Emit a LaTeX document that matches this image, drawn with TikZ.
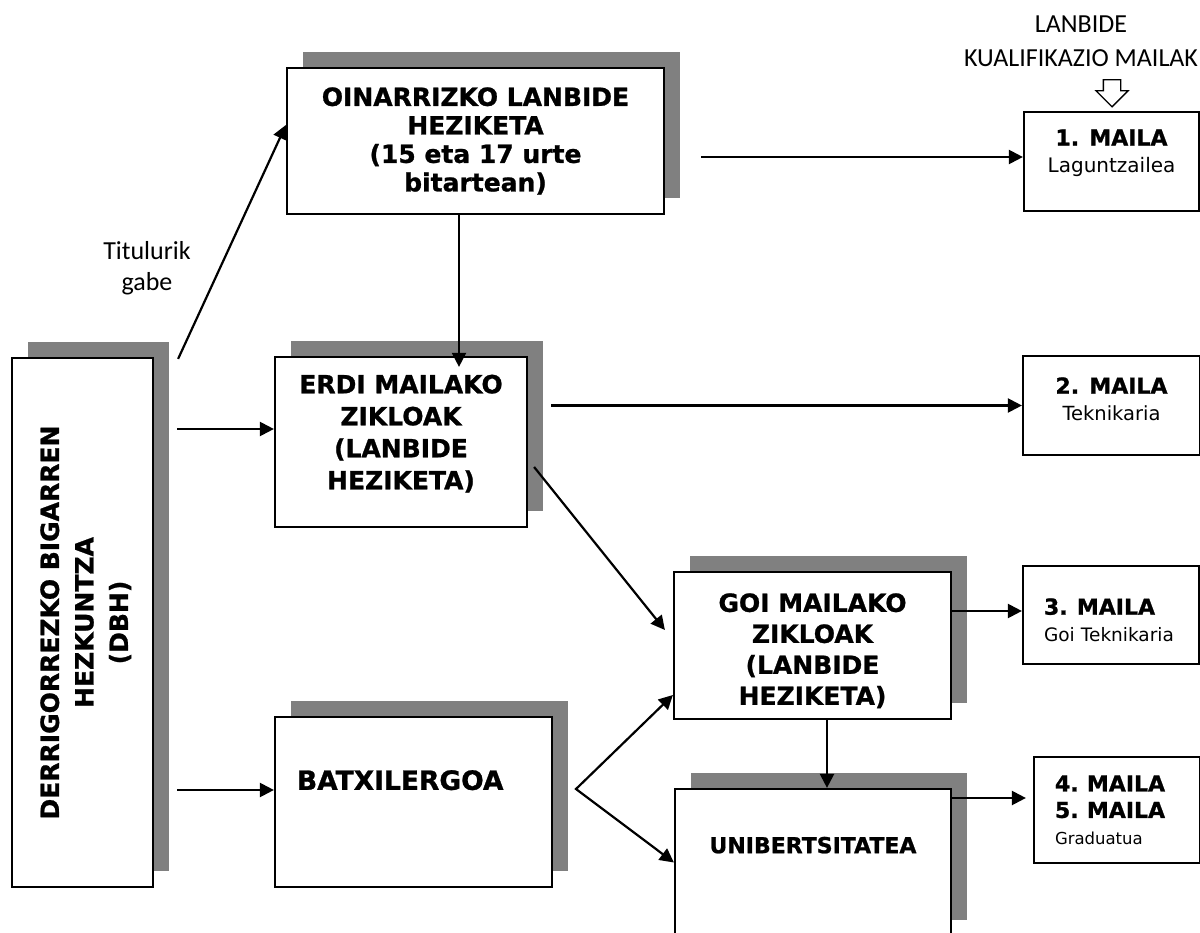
\documentclass[tikz,border=0pt]{standalone}
\usepackage{fontspec}
\setmainfont{DejaVu Sans}[BoldFeatures={FakeBold=1}]
\newfontfamily\calibri{Carlito}
\usetikzlibrary{arrows.meta, shadows, shapes.arrows, calc}
\definecolor{boxshadow}{RGB}{128,128,128}

\tikzset{
	shadebox/.style={draw, line width=2.2pt, fill=white, align=center,
		general shadow={fill=boxshadow, shadow xshift=16pt, shadow yshift=16pt}},
	levelbox/.style={draw, line width=2.2pt, fill=white, font=\fontsize{20}{27}\selectfont},
	note/.style={font=\calibri\fontsize{26}{31}\selectfont, align=center},
}

\begin{document}
\begin{tikzpicture}[x=1pt,y=-1pt,>={Triangle[length=14pt,width=14pt]},line width=2.2pt]
		\useasboundingbox (0,0) rectangle (1200,933);
		
		%Education boxes
		\node[shadebox, minimum width=141pt, minimum height=529pt, font=\bfseries\fontsize{25}{34.5}\selectfont] (dbh) at (82.5,622.5)
			{\rotatebox{90}{\raisebox{-4pt}[\height][\depth]{\begin{tabular}{@{}c@{}}DERRIGORREZKO BIGARREN\\HEZKUNTZA\\(DBH)\end{tabular}}}};
		\node[shadebox, minimum width=377pt, minimum height=146pt, font=\bfseries\fontsize{25}{28.5}\selectfont] (olh) at (475.5,141)
			{OINARRIZKO LANBIDE\\HEZIKETA\\(15 eta 17 urte\\bitartean)};
		\node[shadebox, minimum width=252pt, minimum height=170pt, text depth=20pt, font=\bfseries\fontsize{25}{32}\selectfont] (erdi) at (401,442)
			{ERDI MAILAKO\\ZIKLOAK\\(LANBIDE\\HEZIKETA)};
		\node[shadebox, minimum width=277pt, minimum height=170pt, text width=233pt, inner xsep=22pt, align=left, text depth=44pt, font=\bfseries\fontsize{26.5}{32}\selectfont] (batx) at (413.5,802)
			{BATXILERGOA};
		\node[shadebox, minimum width=277pt, minimum height=147pt, text height=122pt, font=\bfseries\fontsize{25}{31}\selectfont] (goi) at (812.5,645.5)
			{GOI MAILAKO\\ZIKLOAK\\(LANBIDE\\HEZIKETA)};
		\node[shadebox, minimum width=276pt, minimum height=147pt, text depth=35pt, font=\bfseries\fontsize{22}{27}\selectfont] (unib) at (813,862.5)
			{UNIBERTSITATEA};
		
		%Level boxes
		\node[levelbox, minimum width=175pt, minimum height=99pt, align=center, text depth=21pt] (m1) at (1111.5,161.5)
			{{\bfseries\fontsize{22}{27}\selectfont 1. MAILA}\\Laguntzailea};
		\node[levelbox, minimum width=177pt, minimum height=99pt, align=center, text depth=13pt, font=\fontsize{19.5}{27}\selectfont] (m2) at (1111.5,405.5)
			{{\bfseries\fontsize{22}{27}\selectfont 2. MAILA}\\Teknikaria};
		\node[levelbox, minimum width=176pt, minimum height=98pt, text width=134pt, inner xsep=21pt, align=left, text depth=17pt, font=\fontsize{18.5}{27}\selectfont] (m3) at (1111,615)
			{{\bfseries\fontsize{22}{27}\selectfont 3. MAILA}\\Goi Teknikaria};
		\node[levelbox, minimum width=166pt, minimum height=106pt, text width=124pt, inner xsep=21pt, align=left, font=\fontsize{16.5}{26.5}\selectfont] (m45) at (1117,810)
			{{\bfseries\fontsize{22}{26.5}\selectfont 4. MAILA}\\{\bfseries\fontsize{22}{26.5}\selectfont 5. MAILA}\\Graduatua};
		
		%Labels
		\node[note] (nolabel) at (147,268) {Titulurik\\gabe};
		\node[note, font=\calibri\fontsize{26}{34}\selectfont] (lvlhead) at (1081,41) {LANBIDE\\KUALIFIKAZIO MAILAK};
		\node[single arrow, draw, line width=1.3pt, shape border rotate=270, minimum height=27pt,
			single arrow head extend=7.5pt, inner sep=8pt] (lvlptr) at (1112,89) {};
		
		%Connector ends
		\coordinate (dbhtop) at ($(dbh.north east)+(24,2)$);
		\coordinate (erdiin) at ([yshift=13pt]erdi.west);
		\coordinate (batxin) at ([yshift=12pt]batx.west);
		\coordinate (olhout) at ([xshift=-16.5pt]olh.south);
		\coordinate (goiout) at ([xshift=14.5pt]goi.south);
		\coordinate (m1in) at ([yshift=4.5pt]m1.west);
		\coordinate (m3in) at ([yshift=4pt]m3.west);
		\coordinate (m45in) at ([yshift=12pt]m45.west);
		\coordinate (fork) at (576,789);
		
		%Paths
		\path[->]
		(dbhtop) edge ([yshift=16pt]olh.west)
		(dbh.east |- erdiin) edge [shorten <=23pt] (erdiin)
		(dbh.east |- batxin) edge [shorten <=23pt] (batxin)
		(olhout) edge [shorten >=-11pt] (olhout |- erdi.north)
		(olh.east |- m1in) edge [shorten <=36pt] (m1in)
		(erdi.east |- m2.west) edge [shorten <=23pt] (m2.west)
		([xshift=6pt,yshift=-25pt]erdi.east) edge ([xshift=-8pt,yshift=15.5pt]goi.west)
		(goi.east |- m3in) edge (m3in)
		(goiout) edge (goiout |- unib.north)
		(unib.east |- m45in) edge [shorten >=7pt] (m45in);
		\draw[<->] ([yshift=-49.5pt]goi.west) -- (fork) -- (unib.west);
		
\end{tikzpicture}
\end{document}
